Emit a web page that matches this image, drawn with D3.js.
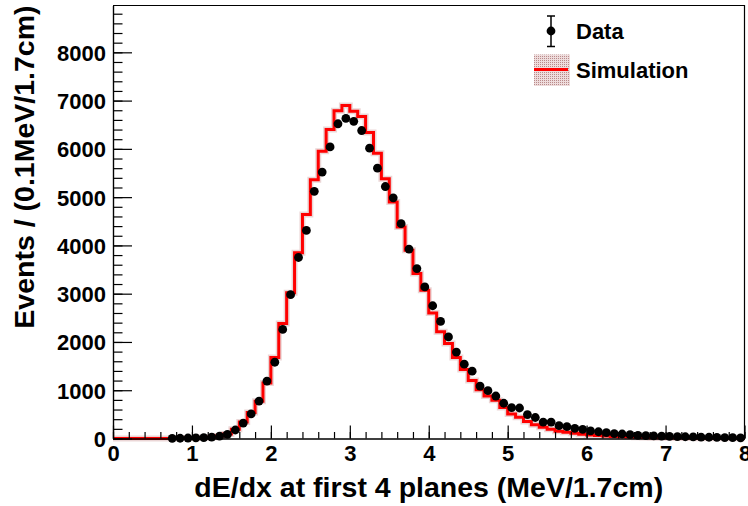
<!DOCTYPE html>
<html>
<head>
<meta charset="utf-8">
<script src="https://cdn.jsdelivr.net/npm/d3@7/dist/d3.min.js"></script>
<style>
body { margin: 0; background: #fff; }
text { font-family: "Liberation Sans", Arial, sans-serif; font-weight: bold; fill: #000; }
</style>
</head>
<body>
<script>
// dimensions
const width = 748;
const height = 506;

const margin = {
    top: 5.5,
    right: 3.5,
    bottom: 67.5,
    left: 113
};

// histogram binning (MeV/1.7cm)
const binWidth = 0.1;
const simFirstEdge = 0.0;
const dataFirstEdge = 0.7;

// simulation, bins 0.0-0.1 ... 7.9-8.0
const simCounts = [
    0, 0, 0, 0, 0, 0, 0, 2, 4, 8,
    12, 18, 28, 50, 95, 190, 340, 540, 770, 1150,
    1680, 2380, 3020, 3850, 4640, 5360, 5950, 6400, 6790, 6900,
    6780, 6670, 6340, 5910, 5380, 4900, 4380, 3900, 3420, 3070,
    2600, 2210, 1970, 1680, 1430, 1200, 1010, 880, 790, 640,
    510, 440, 350, 285, 235, 190, 150, 128, 108, 88,
    72, 60, 50, 42, 35, 30, 25, 21, 18, 15,
    13, 11, 9, 8, 7, 6, 5, 4, 4, 3
];

// data, bins 0.7-0.8 ... 7.9-8.0
const dataCounts = [
    3, 5, 10,
    14, 20, 30, 50, 87, 176, 320, 510, 776, 1190,
    1580, 2260, 2980, 3750, 4310, 5120, 5520, 6040, 6520, 6630,
    6570, 6380, 6015, 5600, 5220, 4985, 4450, 3925, 3520, 3140,
    2750, 2425, 2105, 1790, 1540, 1395, 1085, 990, 880, 730,
    640, 632, 495, 435, 341, 341, 265, 245, 210, 190,
    160, 140, 120, 100, 93, 80, 66, 60, 55, 50,
    45, 40, 36, 32, 30, 26, 24, 20, 18, 15
];

const xMajorTicks = [0, 1, 2, 3, 4, 5, 6, 7, 8];
const yMajorTicks = [0, 1000, 2000, 3000, 4000, 5000, 6000, 7000, 8000];

const xTitle = "dE/dx at first 4 planes (MeV/1.7cm)";
const yTitle = "Events / (0.1MeV/1.7cm)";
const legendLabels = ["Data", "Simulation"];

const sim_color = "#ff0000";
const band_color = "#b98a8a";

let svg = d3.select("body")
    .append("svg")
    .attr("width", width)
    .attr("height", height);

// hatched fill for the simulation uncertainty
let pattern = svg.append("defs")
    .append("pattern")
    .attr("id", "hatch")
    .attr("width", 2)
    .attr("height", 2)
    .attr("patternUnits", "userSpaceOnUse");
pattern.append("rect")
    .attr("width", 2).attr("height", 2)
    .attr("fill", "#eedcdc");
pattern.append("rect")
    .attr("width", 1).attr("height", 1)
    .attr("fill", band_color);

let x = d3.scaleLinear()
    .domain([0, 8])
    .range([margin.left, width - margin.right]);

let y = d3.scaleLinear()
    .domain([0, 8970])
    .range([height - margin.bottom, margin.top]);

// simulation drawn as a step histogram
let simPoints = simCounts.map(function (c, i) {
    return [simFirstEdge + i * binWidth, c];
});
simPoints.push([simFirstEdge + simCounts.length * binWidth, simCounts[simCounts.length - 1]]);

let step = d3.line()
    .x(function (d) { return x(d[0]); })
    .y(function (d) { return y(d[1]); })
    .curve(d3.curveStepAfter);

// faint band under the line
svg.append("path")
    .attr("d", step(simPoints))
    .attr("fill", "none")
    .attr("stroke", "rgba(190,120,120,0.3)")
    .attr("stroke-width", 6);

svg.append("path")
    .attr("d", step(simPoints))
    .attr("fill", "none")
    .attr("stroke", sim_color)
    .attr("stroke-width", 3);

// data points
svg.selectAll(".dot")
    .data(dataCounts)
    .enter()
    .append("circle")
    .attr("class", "dot")
    .attr("cx", function (d, i) { return x(dataFirstEdge + (i + 0.5) * binWidth); })
    .attr("cy", function (d) { return y(d); })
    .attr("r", 4.4)
    .attr("fill", "#000");

// axes, ticks point into the frame
let xAxis = svg.append("g")
    .attr("transform", "translate(0," + y(0) + ")")
    .call(d3.axisBottom(x)
        .tickValues(xMajorTicks)
        .tickSizeInner(-13)
        .tickSizeOuter(0)
        .tickPadding(21)
        .tickFormat(d3.format("d")));

let xMinor = svg.append("g")
    .attr("transform", "translate(0," + y(0) + ")")
    .call(d3.axisBottom(x)
        .tickValues(d3.range(0, 8.01, 0.2))
        .tickSizeInner(-6.5)
        .tickSizeOuter(0)
        .tickFormat(""));

let yAxis = svg.append("g")
    .attr("transform", "translate(" + x(0) + ",0)")
    .call(d3.axisLeft(y)
        .tickValues(yMajorTicks)
        .tickSizeInner(-19)
        .tickSizeOuter(0)
        .tickPadding(26)
        .tickFormat(d3.format("d")));

let yMinor = svg.append("g")
    .attr("transform", "translate(" + x(0) + ",0)")
    .call(d3.axisLeft(y)
        .tickValues(d3.range(0, 8970, 200))
        .tickSizeInner(-9.5)
        .tickSizeOuter(0)
        .tickFormat(""));

svg.selectAll(".domain").attr("stroke", "#000").attr("stroke-width", 1.2);
svg.selectAll(".tick line").attr("stroke", "#000").attr("stroke-width", 1.2);

xAxis.selectAll(".tick text")
    .attr("font-size", 22)
    .attr("dy", "0")
    .attr("y", 461 - y(0));

yAxis.selectAll(".tick text")
    .attr("font-size", 22)
    .attr("x", -7)
    .attr("dy", "0.36em");

// frame on top and right
svg.append("path")
    .attr("d", "M" + x(0) + "," + y.range()[1] + "H" + x(8) + "V" + y(0))
    .attr("fill", "none")
    .attr("stroke", "#000")
    .attr("stroke-width", 1.2);

// axis titles
svg.append("text")
    .attr("x", (x(0) + x(8)) / 2)
    .attr("y", 497)
    .attr("text-anchor", "middle")
    .attr("font-size", 28.5)
    .text(xTitle);

svg.append("text")
    .attr("transform", "translate(33.5," + y.range()[1] + ") rotate(-90)")
    .attr("text-anchor", "end")
    .attr("font-size", 28.5)
    .text(yTitle);

// legend
let legend = svg.append("g");

legend.append("line")
    .attr("x1", 551).attr("x2", 551)
    .attr("y1", 16).attr("y2", 46.5)
    .attr("stroke", "#000").attr("stroke-width", 1.5);
legend.selectAll(".cap")
    .data([16, 46.5])
    .enter()
    .append("line")
    .attr("x1", 547).attr("x2", 555)
    .attr("y1", function (d) { return d; })
    .attr("y2", function (d) { return d; })
    .attr("stroke", "#000").attr("stroke-width", 1.5);
legend.append("circle")
    .attr("cx", 551).attr("cy", 31)
    .attr("r", 4.4)
    .attr("fill", "#000");

legend.append("rect")
    .attr("x", 534).attr("y", 54.5)
    .attr("width", 36).attr("height", 31.5)
    .attr("fill", "url(#hatch)");
legend.append("line")
    .attr("x1", 534).attr("x2", 568)
    .attr("y1", 69.5).attr("y2", 69.5)
    .attr("stroke", sim_color).attr("stroke-width", 3);

legend.selectAll(".label")
    .data(legendLabels)
    .enter()
    .append("text")
    .attr("class", "label")
    .attr("x", 576)
    .attr("y", function (d, i) { return 38.7 + i * 39; })
    .attr("font-size", 22)
    .text(function (d) { return d; });
</script>
</body>
</html>
